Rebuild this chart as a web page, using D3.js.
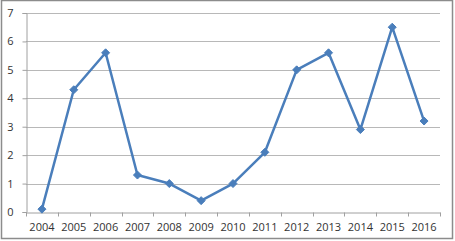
<html lang="en">
  <head>
    <meta charset="UTF-8" />
    <title>Line chart 2004-2016</title>
    <script src="https://d3js.org/d3.v7.min.js"></script>
  </head>
  <style>
    body {
      margin: 0;
    }
    svg {
      display: block;
    }
    text {
      font-family: "Open Sans", "Liberation Sans", sans-serif;
      font-size: 11px;
      fill: #333;
    }
  </style>
  <body>
    <svg width="455" height="241"></svg>
    <script>
      var years = ["2004", "2005", "2006", "2007", "2008", "2009", "2010",
                   "2011", "2012", "2013", "2014", "2015", "2016"];
      var values = [0.1, 4.3, 5.6, 1.3, 1.0, 0.4, 1.0, 2.1, 5.0, 5.6, 2.9, 6.5, 3.2];
      var yTicks = [0, 1, 2, 3, 4, 5, 6, 7];

      var svg = d3.select("svg");

      // outer frame
      svg.append("rect")
        .attr("x", 1.5).attr("y", 0.5)
        .attr("width", 451).attr("height", 238)
        .style("fill", "white")
        .style("stroke", "#8c8c8c")
        .style("stroke-width", 1.5);

      var plotLeft = 26, plotRight = 440, plotTop = 13, plotBottom = 212;

      var x = d3.scaleBand().domain(years).range([plotLeft, plotRight]);
      var y = d3.scaleLinear().domain([0, 7]).range([plotBottom, plotTop]);

      // gridlines
      svg.append("g")
        .selectAll("line")
        .data(yTicks.filter(function (d) { return d > 0; }))
        .enter()
        .append("line")
        .attr("x1", plotLeft).attr("x2", plotRight)
        .attr("y1", function (d) { return Math.round(y(d)) + 0.5; })
        .attr("y2", function (d) { return Math.round(y(d)) + 0.5; })
        .style("stroke", "#b8b8b8")
        .style("stroke-width", 1);

      // y axis
      var yAxis = svg.append("g")
        .attr("transform", "translate(" + (plotLeft + 0.5) + ",0)")
        .call(d3.axisLeft(y).tickValues(yTicks).tickFormat(d3.format("d"))
          .tickSize(4).tickPadding(9));
      yAxis.select(".domain").style("stroke", "#a0a0a0");
      yAxis.selectAll(".tick line").style("stroke", "#a0a0a0");
      yAxis.selectAll("text").style("font-size", "11px").style("fill", "#333");

      // x axis with ticks at category boundaries
      var xAxis = svg.append("g")
        .attr("transform", "translate(0," + (plotBottom + 0.5) + ")")
        .call(d3.axisBottom(x).tickSize(0).tickPadding(11));
      xAxis.select(".domain").style("stroke", "#a0a0a0");
      xAxis.selectAll("text").style("font-size", "11px").style("fill", "#333");

      xAxis.selectAll("line.sep")
        .data(d3.range(years.length + 1))
        .enter()
        .append("line")
        .attr("class", "sep")
        .attr("x1", function (i) { return Math.round(plotLeft + i * x.bandwidth()) + 0.5; })
        .attr("x2", function (i) { return Math.round(plotLeft + i * x.bandwidth()) + 0.5; })
        .attr("y1", 0).attr("y2", 4)
        .style("stroke", "#a0a0a0");

      var cx = function (d, i) { return x(years[i]) + x.bandwidth() / 2; };

      var line = d3.line()
        .x(cx)
        .y(function (d) { return y(d); });

      svg.append("path")
        .datum(values)
        .attr("d", line)
        .style("fill", "none")
        .style("stroke", "#4a7ebb")
        .style("stroke-width", 2.5)
        .style("stroke-linejoin", "round");

      // square diamond, like the spreadsheet marker
      var squareDiamond = {
        draw: function (ctx, size) {
          var r = Math.sqrt(size / 2);
          ctx.moveTo(0, -r);
          ctx.lineTo(r, 0);
          ctx.lineTo(0, r);
          ctx.lineTo(-r, 0);
          ctx.closePath();
        }
      };

      svg.append("g")
        .selectAll("path")
        .data(values)
        .enter()
        .append("path")
        .attr("d", d3.symbol().type(squareDiamond).size(32))
        .attr("transform", function (d, i) {
          return "translate(" + cx(d, i) + "," + y(d) + ")";
        })
        .style("fill", "#4a7ebb")
        .style("stroke", "#4a7ebb");
    </script>
  </body>
</html>
